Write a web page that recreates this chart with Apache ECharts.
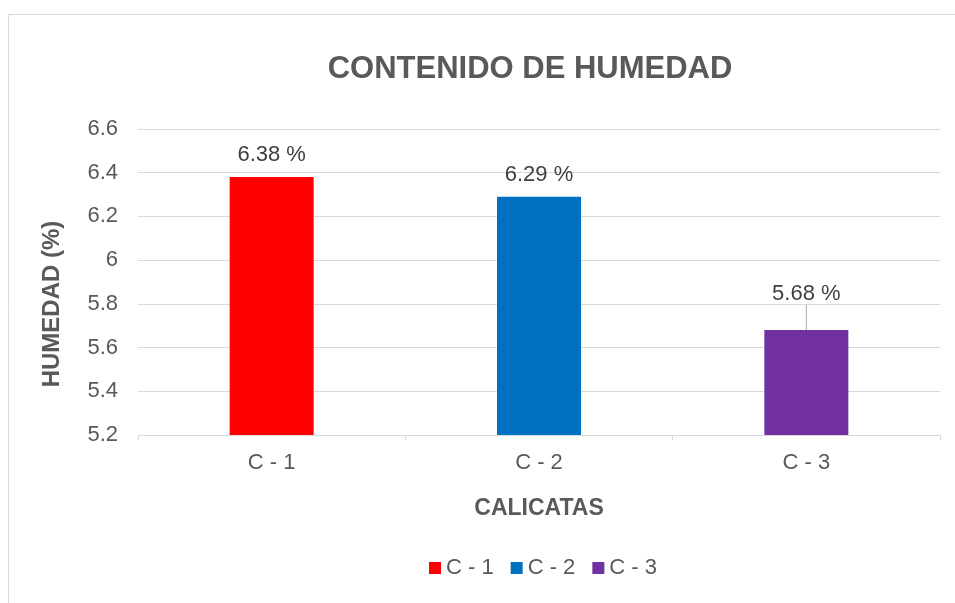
<!DOCTYPE html>
<html><head><meta charset="utf-8">
<script src="https://cdn.jsdelivr.net/npm/echarts@6/dist/echarts.min.js"></script>
<style>html,body{margin:0;padding:0;background:#fff}#c{width:955px;height:603px}</style>
</head><body><div id="c"></div>
<script>
const categories = ['C - 1', 'C - 2', 'C - 3'];
const values = [6.38, 6.29, 5.68];
const colors = ['#FF0000', '#0070C0', '#7030A0'];
const yTicks = {min: 5.2, max: 6.6, interval: 0.2};

const chart = echarts.init(document.getElementById('c'));
const font = 'Liberation Sans, Arial, sans-serif';
const series = categories.map((name, i) => ({
  name: name,
  type: 'bar',
  barWidth: 84,
  barGap: '-100%',
  itemStyle: {color: colors[i]},
  data: values.map((v, j) => j === i ? v : null),
  label: {
    show: true, position: 'top', distance: 11,
    color: '#404040', fontSize: 22, fontFamily: font,
    formatter: p => p.value.toFixed(2) + ' %'
  },
  labelLayout: i === 2 ? {dy: -14} : null,
  labelLine: i === 2 ? {show: true, lineStyle: {color: '#a6a6a6', width: 1}} : {show: false}
}));

chart.setOption({
  animation: false,
  graphic: [
    {type: 'rect', shape: {x: 8.5, y: 14.5, width: 960, height: 620}, style: {fill: 'none', stroke: '#d9d9d9', lineWidth: 1}},
    {type: 'text', x: 52, y: 304, rotation: Math.PI / 2,
      style: {text: 'HUMEDAD (%)', fill: '#595959', font: 'bold 24px ' + font, textAlign: 'center', textVerticalAlign: 'middle'}}
  ],
  title: {text: 'CONTENIDO DE HUMEDAD', left: 525, top: 49, textAlign: 'center',
    textStyle: {color: '#595959', fontSize: 31, fontWeight: 'bold', fontFamily: font}},
  legend: {top: 552, left: 424, itemWidth: 12, itemHeight: 12, itemGap: 17,
    icon: 'rect', textStyle: {color: '#595959', fontSize: 22, fontFamily: font},
    data: categories},
  grid: {left: 138, right: 15, top: 129, bottom: 168},
  xAxis: {type: 'category', data: categories,
    name: 'CALICATAS', nameLocation: 'middle', nameGap: 62,
    nameTextStyle: {color: '#595959', fontSize: 23, fontWeight: 'bold', fontFamily: font},
    axisLine: {lineStyle: {color: '#d9d9d9'}},
    axisTick: {show: true, length: 5, lineStyle: {color: '#d9d9d9'}},
    axisLabel: {color: '#595959', fontSize: 22, fontFamily: font, margin: 17}},
  yAxis: {type: 'value', min: yTicks.min, max: yTicks.max, interval: yTicks.interval,
    axisLine: {show: false}, axisTick: {show: false},
    splitLine: {lineStyle: {color: '#d9d9d9'}},
    axisLabel: {color: '#595959', fontSize: 22, fontFamily: font, margin: 20,
      formatter: v => String(parseFloat(v.toFixed(1)))}},
  series: series
});
</script></body></html>
